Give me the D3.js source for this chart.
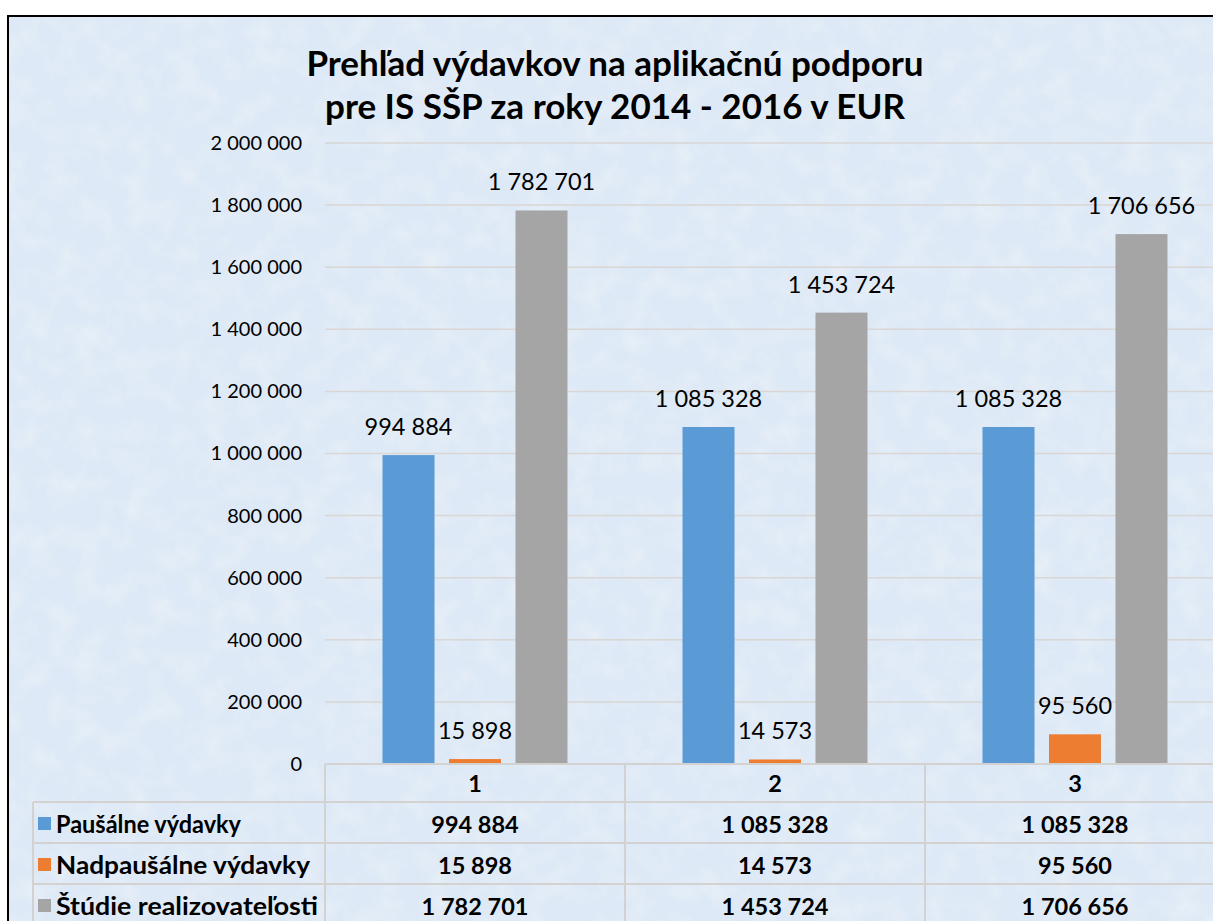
<!DOCTYPE html>
<html lang="sk">
<head>
<meta charset="UTF-8">
<title>Prehľad výdavkov</title>
<script src="https://cdn.jsdelivr.net/npm/d3@7"></script>
<style>
  body { margin: 0; background: #fff; }
  text { font-family: Lato, "Open Sans", sans-serif; }
</style>
</head>
<body>
<script>
// data
var categories = ["1", "2", "3"];
var seriesNames = ["Paušálne výdavky", "Nadpaušálne výdavky", "Štúdie realizovateľosti"];
var pausalne = [994884, 1085328, 1085328];
var nadpausalne = [15898, 14573, 95560];
var studie = [1782701, 1453724, 1706656];
var yTicks = [0, 200000, 400000, 600000, 800000, 1000000, 1200000, 1400000, 1600000, 1800000, 2000000];
var colors = ["#5b9bd5", "#ed7d31", "#a5a5a5"];
var titleLines = ["Prehľad výdavkov na aplikačnú podporu", "pre IS SŠP za roky 2014 - 2016 v EUR"];

var series = [pausalne, nadpausalne, studie];

width = 1213;
height = 921;
var plotLeft = 325, plotRight = 1225, plotTop = 143, plotBottom = 764;

var fmt = d3.formatLocale({decimal: ",", thousands: " ", grouping: [3], currency: ["", " €"]}).format(",");

var svg = d3.select("body").append("svg")
    .attr("width", width)
    .attr("height", height);

// background texture
var defs = svg.append("defs");
var filt = defs.append("filter").attr("id", "tex")
    .attr("x", 0).attr("y", 0).attr("width", "100%").attr("height", "100%");
filt.append("feTurbulence").attr("type", "fractalNoise")
    .attr("baseFrequency", 0.04).attr("numOctaves", 4).attr("seed", 7).attr("result", "n");
filt.append("feColorMatrix").attr("in", "n").attr("type", "matrix")
    .attr("values", "0 0 0 0 0.80  0 0 0 0 0.86  0 0 0 0 0.93  2.2 0 0 0 -0.9");

svg.append("rect").attr("x", 7).attr("y", 15).attr("width", width).attr("height", height)
    .attr("fill", "#dde9f6");
svg.append("rect").attr("x", 7).attr("y", 15).attr("width", width).attr("height", height)
    .attr("filter", "url(#tex)").attr("opacity", 0.9);
svg.append("line").attr("x1", 8).attr("x2", 8).attr("y1", 15).attr("y2", height)
    .attr("stroke", "#000").attr("stroke-width", 2);
svg.append("line").attr("x1", 7).attr("x2", width).attr("y1", 16).attr("y2", 16)
    .attr("stroke", "#000").attr("stroke-width", 2);

// scales
var x0 = d3.scaleBand().domain(categories).range([plotLeft, plotRight]);
var x1 = d3.scaleBand().domain(d3.range(series.length)).range([0, 185]).paddingInner(0.218);
var y = d3.scaleLinear().domain([0, 2000000]).range([plotBottom, plotTop]);

// gridlines
svg.append("g").selectAll("line").data(yTicks.slice(1)).join("line")
    .attr("x1", plotLeft).attr("x2", width)
    .attr("y1", function(d) { return y(d); }).attr("y2", function(d) { return y(d); })
    .attr("stroke", "#d9d6d3").attr("stroke-width", 1.5);

// y axis
var yAxis = d3.axisLeft(y).tickValues(yTicks).tickFormat(fmt).tickSize(0).tickPadding(23);
var ya = svg.append("g").attr("transform", "translate(" + plotLeft + ",0)").call(yAxis);
ya.select(".domain").remove();
ya.selectAll("text").attr("font-size", 20).attr("fill", "#000")
    .style("font-family", "Lato, sans-serif");

// bars
var groups = svg.append("g").selectAll("g").data(categories).join("g")
    .attr("transform", function(d) { return "translate(" + (x0(d) + (x0.bandwidth() - 185) / 2) + ",0)"; });

groups.selectAll("rect").data(function(d, i) {
    return series.map(function(s, k) { return {k: k, v: s[i]}; });
}).join("rect")
    .attr("x", function(d) { return x1(d.k); })
    .attr("width", x1.bandwidth())
    .attr("y", function(d) { return y(d.v); })
    .attr("height", function(d) { return y(0) - y(d.v); })
    .attr("fill", function(d) { return colors[d.k]; });

groups.selectAll("text").data(function(d, i) {
    return series.map(function(s, k) { return {k: k, v: s[i]}; });
}).join("text")
    .attr("x", function(d) { return x1(d.k) + x1.bandwidth() / 2; })
    .attr("y", function(d) { return y(d.v) - 20; })
    .attr("text-anchor", "middle")
    .attr("font-size", 23.5)
    .attr("fill", "#000")
    .text(function(d) { return fmt(d.v); });

// title
svg.append("g").selectAll("text").data(titleLines).join("text")
    .attr("x", 615).attr("y", function(d, i) { return 76 + i * 43; })
    .attr("text-anchor", "middle")
    .attr("font-size", 35).attr("font-weight", "bold").attr("fill", "#000")
    .text(function(d) { return d; });

// data table
var tableLeft = 33, rowH = 41, headTop = plotBottom, firstRow = 802;
var grid = svg.append("g").attr("stroke", "#d4d2d0").attr("stroke-width", 2);
grid.append("line").attr("x1", plotLeft).attr("x2", width).attr("y1", headTop).attr("y2", headTop);
[0, 1, 2].forEach(function(r) {
    grid.append("line").attr("x1", tableLeft).attr("x2", width)
        .attr("y1", firstRow + r * rowH).attr("y2", firstRow + r * rowH);
});
grid.append("line").attr("x1", tableLeft).attr("x2", tableLeft).attr("y1", firstRow).attr("y2", height);
x0.domain().forEach(function(c) {
    grid.append("line").attr("x1", x0(c)).attr("x2", x0(c)).attr("y1", headTop).attr("y2", height);
});

svg.append("g").selectAll("text").data(categories).join("text")
    .attr("x", function(d) { return x0(d) + x0.bandwidth() / 2; })
    .attr("y", 792)
    .attr("text-anchor", "middle").attr("font-size", 23.5).attr("font-weight", "bold")
    .text(function(d) { return d; });

var rows = svg.append("g").selectAll("g").data(seriesNames).join("g")
    .attr("transform", function(d, i) { return "translate(0," + (firstRow + i * rowH) + ")"; });
rows.append("rect").attr("x", 38).attr("y", 15).attr("width", 13).attr("height", 13)
    .attr("fill", function(d, i) { return colors[i]; });
rows.append("text").attr("x", 56).attr("y", 31)
    .attr("font-size", 25).attr("font-weight", "bold")
    .attr("textLength", function(d, i) { return [185, 254, 262][i]; })
    .attr("lengthAdjust", "spacingAndGlyphs")
    .text(function(d) { return d; });
rows.each(function(d, i) {
    d3.select(this).selectAll("text.v").data(series[i]).join("text")
        .attr("class", "v")
        .attr("x", function(v, j) { return x0(categories[j]) + x0.bandwidth() / 2; })
        .attr("y", 31)
        .attr("text-anchor", "middle").attr("font-size", 23.5).attr("font-weight", "bold")
        .text(function(v) { return fmt(v); });
});
</script>
</body>
</html>
